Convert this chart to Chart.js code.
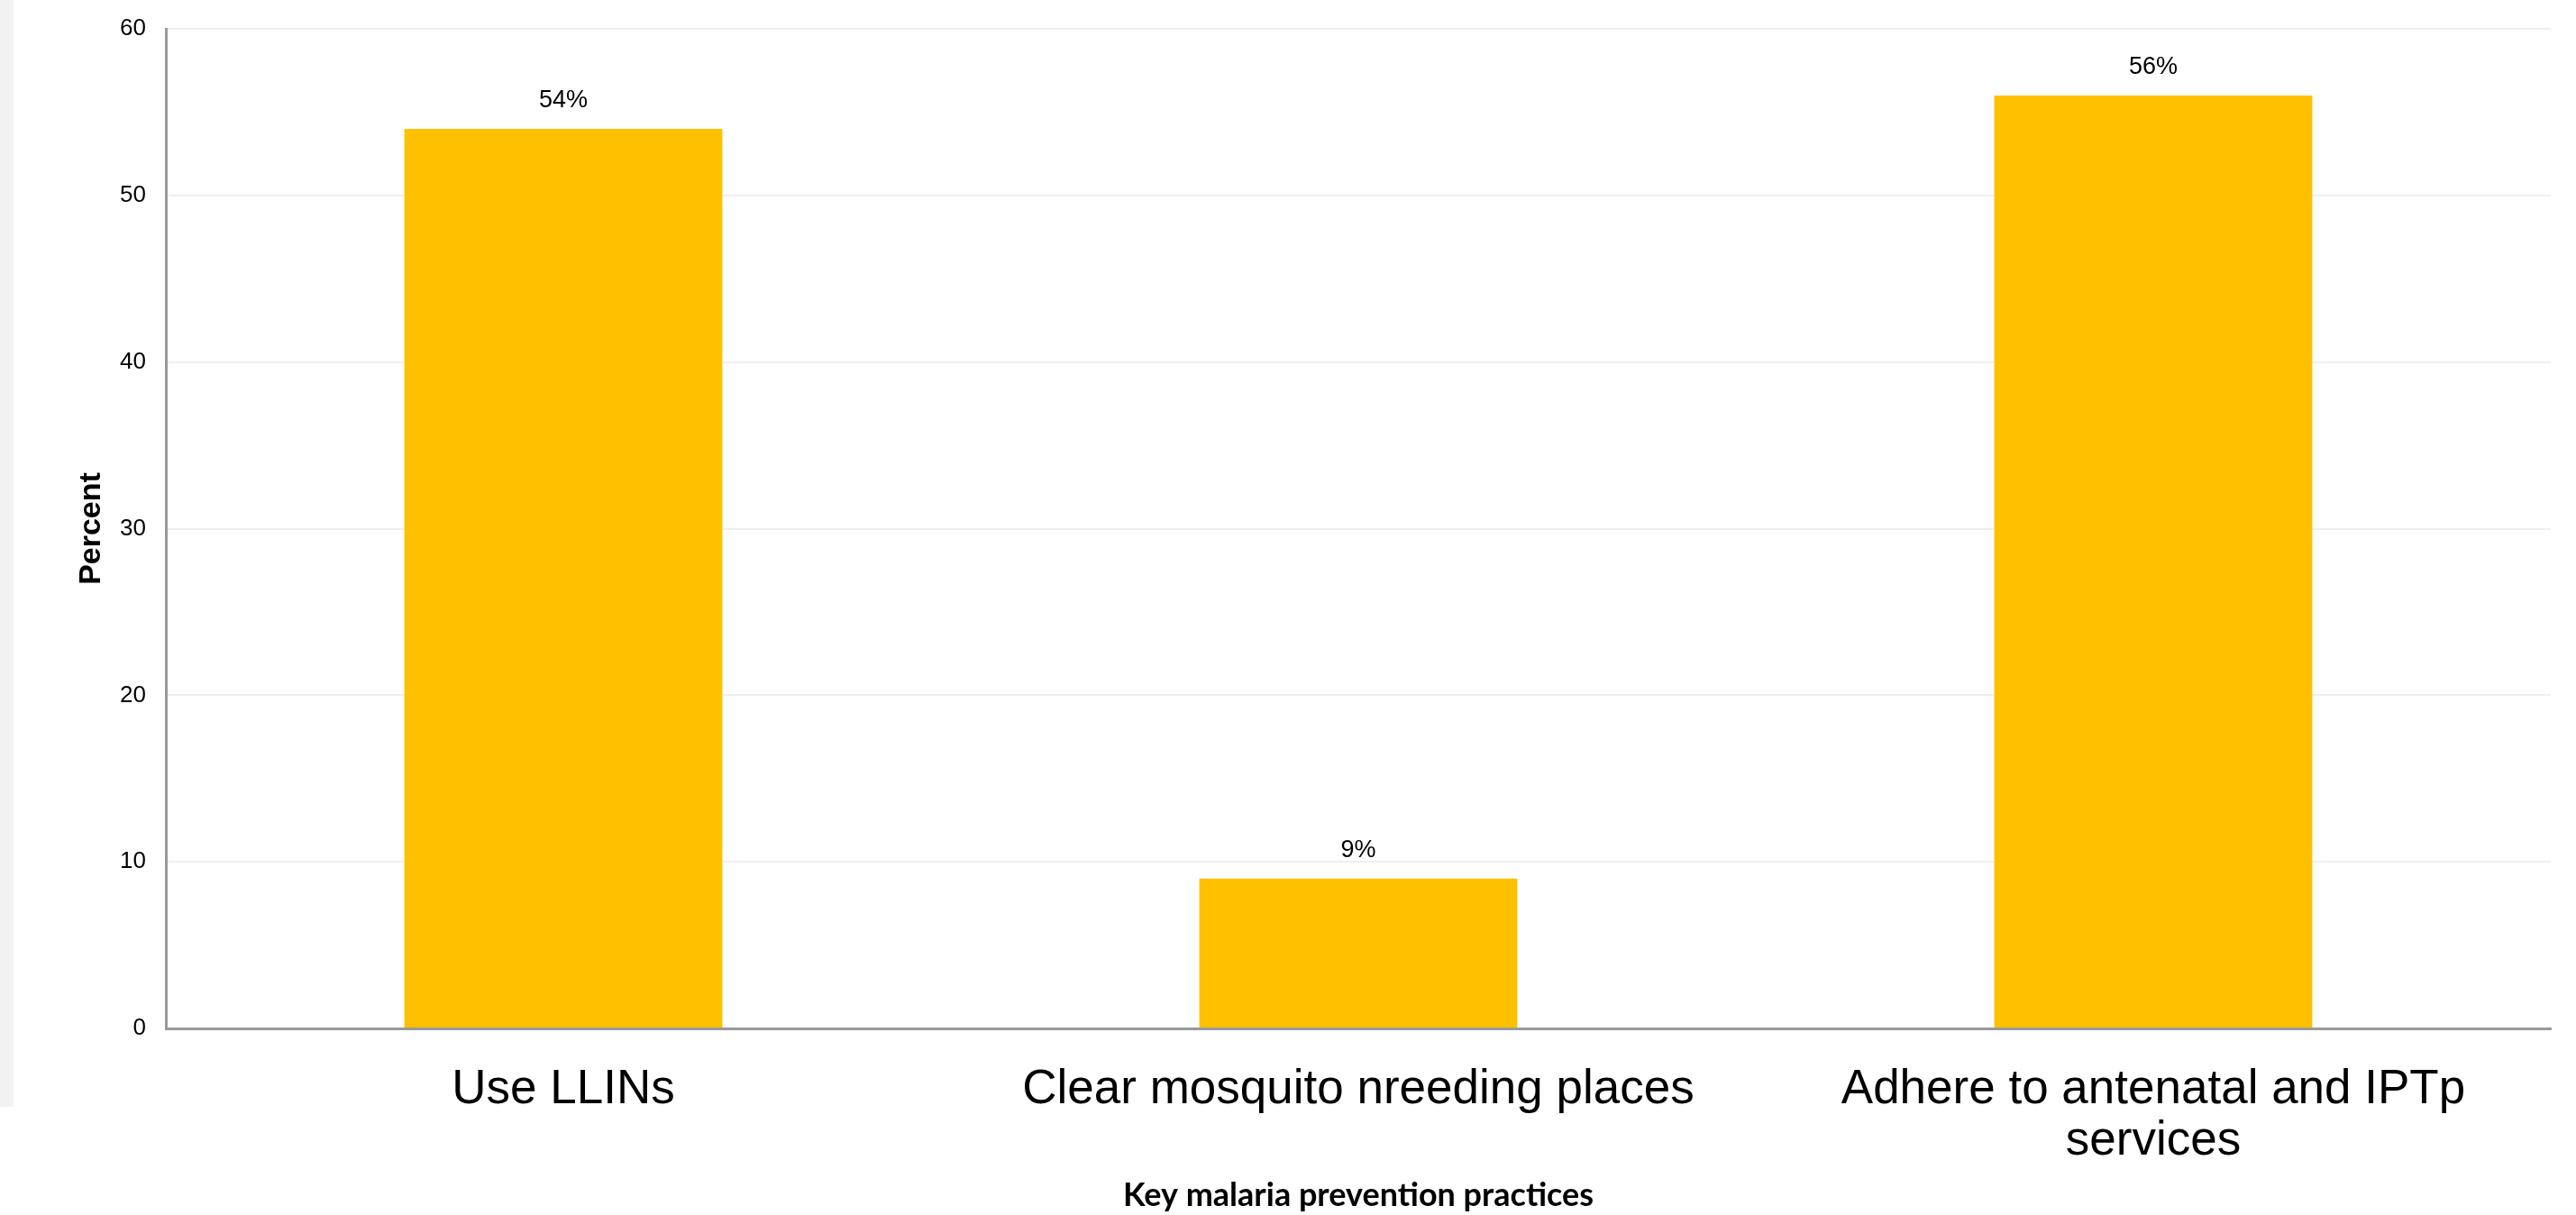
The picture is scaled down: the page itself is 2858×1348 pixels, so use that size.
<!DOCTYPE html>
<html>
<head>
<meta charset="utf-8">
<script src="https://cdn.jsdelivr.net/npm/chart.js@4"></script>
<style>
  html, body { margin: 0; padding: 0; background: #fff; }
  #wrap { position: relative; width: 2858px; height: 1348px; }
  #strip { position: absolute; left: 0; top: 0; width: 15px; height: 1228px; background: #f2f2f2; }
  #chartCanvas { position: absolute; left: 0; top: 0; }
</style>
</head>
<body>
<div id="wrap">
  <div id="strip"></div>
  <canvas id="chartCanvas" width="2858" height="1348"></canvas>
</div>
<script>
// data
const categories = [
    'Use LLINs',
    'Clear mosquito nreeding places',
    ['Adhere to antenatal and IPTp', 'services'],
];
const percentValues = [54, 9, 56];
const yTicks = [0, 10, 20, 30, 40, 50, 60];

// simple value labels above each bar
const barLabels = {
    id: 'barLabels',
    afterDatasetsDraw(chart) {
        const ctx = chart.ctx;
        const meta = chart.getDatasetMeta(0);
        ctx.save();
        ctx.font = '27px "Liberation Sans", Arial, sans-serif';
        ctx.fillStyle = '#000';
        ctx.textAlign = 'center';
        ctx.textBaseline = 'bottom';
        meta.data.forEach((bar, i) => {
            ctx.fillText(percentValues[i] + '%', bar.x, bar.y - 18);
        });
        ctx.restore();
    },
};

function initializeChart() {
    const ctx = document.getElementById('chartCanvas').getContext('2d');
    new Chart(ctx, {
        type: 'bar',
        data: {
            labels: categories,
            datasets: [
                {
                    label: 'Percent',
                    data: percentValues,
                    backgroundColor: '#FFC000',
                    categoryPercentage: 1,
                    barPercentage: 0.4,
                },
            ],
        },
        options: {
            responsive: false,
            animation: false,
            layout: {
                padding: { top: 32, right: 28, bottom: 0, left: 0 },
            },
            plugins: {
                legend: { display: false },
                tooltip: { enabled: false },
            },
            scales: {
                x: {
                    grid: { display: false, drawTicks: false },
                    border: { color: '#999', width: 3 },
                    ticks: {
                        color: '#000',
                        padding: 40,
                        maxRotation: 0,
                        autoSkip: false,
                        font: { family: '"Liberation Sans", Arial, sans-serif', size: 53, lineHeight: 1.08 },
                    },
                    title: {
                        display: true,
                        text: 'Key malaria prevention practices',
                        color: '#000',
                        padding: { top: 0, bottom: 0 },
                        font: { family: 'Lato, "Open Sans", sans-serif', size: 36, weight: 'bold' },
                    },
                    afterFit(scale) {
                        scale.height = 207;
                        scale.paddingLeft = 0;
                        scale.paddingRight = 0;
                    },
                },
                y: {
                    min: 0,
                    max: 60,
                    afterBuildTicks(scale) { scale.ticks = yTicks.map(v => ({ value: v })); },
                    grid: { color: '#efefef', lineWidth: 2, drawTicks: false },
                    border: { color: '#999', width: 3 },
                    ticks: {
                        color: '#000',
                        padding: 22,
                        font: { family: '"Liberation Sans", Arial, sans-serif', size: 26 },
                    },
                    title: {
                        display: true,
                        text: 'Percent',
                        color: '#000',
                        padding: { top: 81, bottom: 0 },
                        font: { family: '"Liberation Sans", Arial, sans-serif', size: 34, weight: 'bold' },
                    },
                    afterFit(scale) {
                        scale.width = 184;
                        scale.paddingTop = 0;
                        scale.paddingBottom = 0;
                    },
                },
            },
        },
        plugins: [barLabels],
    });
}

initializeChart();
</script>
</body>
</html>
